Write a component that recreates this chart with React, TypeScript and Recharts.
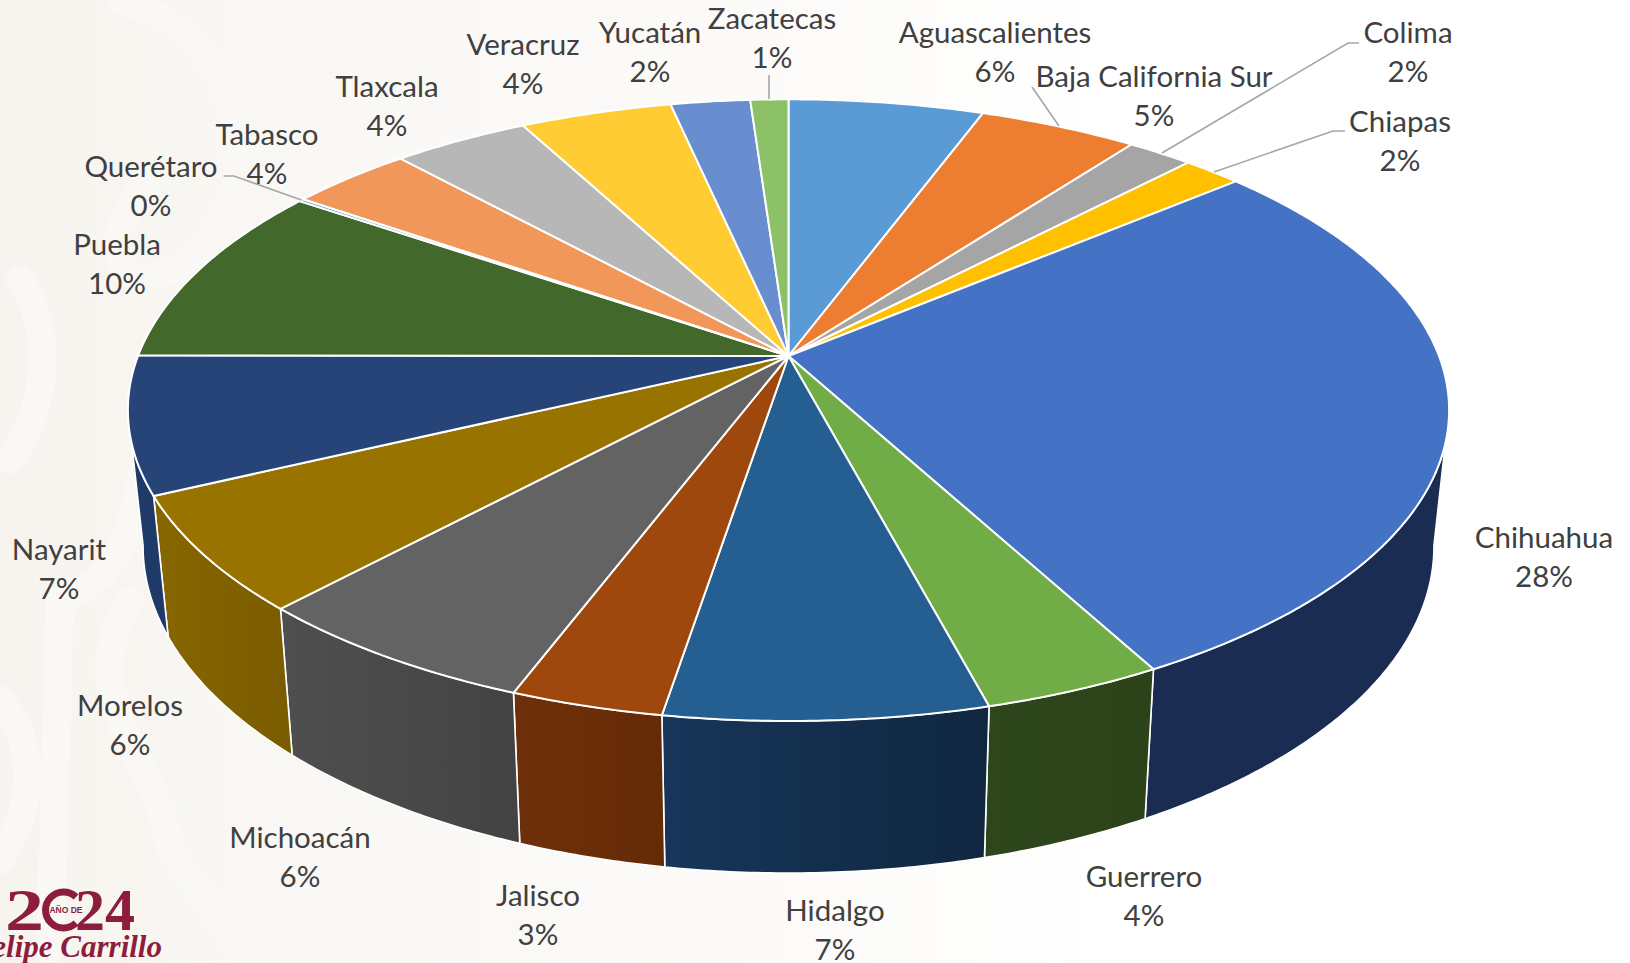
import { PieChart, Pie } from "recharts";

// states, clockwise from 12 o'clock
const states = [
  "Aguascalientes", "Baja California Sur", "Colima", "Chiapas", "Chihuahua", "Guerrero",
  "Hidalgo", "Jalisco", "Michoacán", "Morelos", "Nayarit", "Puebla",
  "Querétaro", "Tabasco", "Tlaxcala", "Veracruz", "Yucatán", "Zacatecas",
];
const shares = [5.65, 4.6, 1.9, 1.7, 28.25, 3.75, 6.7, 3.18, 6.17, 6.0, 7.1, 9.5, 0.15, 3.55, 3.95, 4.4, 2.3, 1.1];
const topColors = [
  "#5B9BD5", "#ED7D31", "#A5A5A5", "#FFC000", "#4472C4", "#70AD47",
  "#255E91", "#9E480E", "#636363", "#997300", "#264478", "#43682B",
  "#5B9BD5", "#F1975A", "#B7B7B7", "#FFCD33", "#698ED0", "#8CC168",
];
const wallFrom = [
  "#2F5F8A", "#8F4B1D", "#646464", "#9A7400", "#1A2C51", "#2E461B",
  "#17365A", "#6E300A", "#4F4F4F", "#876700", "#1F3A68", "#283F1A",
  "#2F5F8A", "#915B36", "#6E6E6E", "#9A7C1F", "#3F567E", "#55753F",
];
const wallTo = [
  "#2F5F8A", "#8F4B1D", "#646464", "#9A7400", "#1A2C51", "#2C4319",
  "#0F2740", "#652B06", "#434343", "#7A5C00", "#1F3A68", "#283F1A",
  "#2F5F8A", "#915B36", "#6E6E6E", "#9A7C1F", "#3F567E", "#55753F",
];

const tableData = states.map((name, i) => ({
  name,
  value: shares[i],
  fill: topColors[i],
  wallFrom: wallFrom[i],
  wallTo: wallTo[i],
}));

// perspective of the tilted disc
const TILT_K = 0.1742;
const Y_RATIO = 301.4 / 649.4;
const WALL_DEPTH = 152;
const WALL_SHRINK = 0.977;
const WALL_FROM_DEG = 99.9;
const WALL_TO_DEG = 260.1;

function project(cx: number, cy: number, r: number, t: number) {
  const rad = (t * Math.PI) / 180;
  const u = Math.sin(rad);
  const v = Math.cos(rad);
  const w = 1 + TILT_K * v;
  return { x: cx + (r * u) / w, y: cy - (Y_RATIO * 649.4 * v) / w };
}

function projectBottom(cx: number, cy: number, r: number, t: number) {
  const p = project(cx, cy, r, t);
  return {
    x: cx + (p.x - cx) * WALL_SHRINK,
    y: p.y + WALL_DEPTH + (p.y - 720) * 0.05,
  };
}

function arcPoints(fn: any, cx: number, cy: number, r: number, a: number, b: number) {
  const pts = [];
  const n = Math.max(2, Math.ceil(Math.abs(b - a) * 2));
  for (let i = 0; i <= n; i++) pts.push(fn(cx, cy, r, a + ((b - a) * i) / n));
  return pts;
}

const toPath = (pts: any[]) =>
  pts.map((p, i) => `${i === 0 ? "M" : "L"}${p.x.toFixed(2)},${p.y.toFixed(2)}`).join(" ") + " Z";

function TopSlice(props: any) {
  const { cx, cy, outerRadius, startAngle, endAngle, fill } = props;
  const pts = arcPoints(project, cx, cy, outerRadius, 90 - startAngle, 90 - endAngle);
  return (
    <path
      d={toPath([{ x: cx, y: cy }, ...pts])}
      fill={fill}
      stroke="#FFFFFF"
      strokeWidth={2}
      strokeLinejoin="round"
    />
  );
}

function WallSlice(props: any) {
  const { cx, cy, outerRadius, startAngle, endAngle, name } = props;
  const a = Math.max(90 - startAngle, WALL_FROM_DEG);
  const b = Math.min(90 - endAngle, WALL_TO_DEG);
  if (b <= a) return null;
  const top = arcPoints(project, cx, cy, outerRadius, a, b);
  const bottom = arcPoints(projectBottom, cx, cy, outerRadius, b, a);
  const id = `wall-${states.indexOf(name)}`;
  return (
    <g>
      <defs>
        <linearGradient id={id} x1="0" y1="0" x2="1" y2="0">
          <stop offset="0" stopColor={props.wallFrom} />
          <stop offset="1" stopColor={props.wallTo} />
        </linearGradient>
      </defs>
      <path d={toPath([...top, ...bottom])} fill={`url(#${id})`} stroke="#FFFFFF" strokeWidth={1.6} />
    </g>
  );
}

// label centres and leader lines, by state
const labelLayout: Record<string, { x: number; y: number; leader?: string }> = {
  Aguascalientes: { x: 995, y: 33 },
  "Baja California Sur": { x: 1154, y: 77, leader: "1032,87 1059,126" },
  Colima: { x: 1408, y: 33, leader: "1359,43 1348,43 1162,153" },
  Chiapas: { x: 1400, y: 122, leader: "1345,131 1333,131 1214,172" },
  Chihuahua: { x: 1544, y: 538 },
  Guerrero: { x: 1144, y: 877 },
  Hidalgo: { x: 835, y: 911 },
  Jalisco: { x: 538, y: 896 },
  Michoacán: { x: 300, y: 838 },
  Morelos: { x: 130, y: 706 },
  Nayarit: { x: 59, y: 550 },
  Puebla: { x: 117, y: 245 },
  Querétaro: { x: 151, y: 167, leader: "223.5,176 234,176 301.5,200" },
  Tabasco: { x: 267, y: 135 },
  Tlaxcala: { x: 387, y: 87 },
  Veracruz: { x: 523, y: 45 },
  Yucatán: { x: 650, y: 33 },
  Zacatecas: { x: 772, y: 19, leader: "769,75 769,99" },
};

function StateLabel(props: any) {
  const { name, percent } = props;
  const pos = labelLayout[name];
  if (!pos) return null;
  return (
    <g>
      {pos.leader && <polyline points={pos.leader} fill="none" stroke="#A6A6A6" strokeWidth={1.6} />}
      <text x={pos.x} y={pos.y + 10} textAnchor="middle" fontSize={29.5} fill="#404040" fontFamily="Lato">
        {name}
      </text>
      <text x={pos.x} y={pos.y + 49} textAnchor="middle" fontSize={29.5} fill="#404040" fontFamily="Lato">
        {Math.round(percent * 100)}%
      </text>
    </g>
  );
}

function Backdrop() {
  const shapes = [
    "M120,0 C260,40 270,220 170,270 C110,300 100,230 150,180",
    "M20,280 C60,340 40,420 10,460",
    "M170,410 C120,470 160,560 60,600 L50,950",
    "M130,600 C70,700 160,760 170,850 L250,963",
    "M300,880 C340,920 360,940 370,963",
    "M0,700 C50,760 20,830 0,860",
  ];
  const crimson = "#8C1D3C";
  return (
    <svg width={1630} height={963} style={{ position: "absolute", left: 0, top: 0 }}>
      <defs>
        <linearGradient id="paper" x1="0" y1="0" x2="1" y2="0">
          <stop offset="0" stopColor="#F7F4EF" />
          <stop offset="0.2" stopColor="#FAF8F5" />
          <stop offset="0.5" stopColor="#FCFBF9" />
          <stop offset="0.68" stopColor="#FFFFFF" />
        </linearGradient>
      </defs>
      <rect width={1630} height={963} fill="url(#paper)" />
      {shapes.map((d) => (
        <path key={d} d={d} fill="none" stroke="#F9F8F5" strokeWidth={28} strokeLinecap="round" />
      ))}
      <text x={5} y={930} fontSize={60} fontWeight="bold" fontFamily="Liberation Serif" fill={crimson} textLength={39} lengthAdjust="spacingAndGlyphs">
        2
      </text>
      <path d="M76,897 A18,18 0 1 0 76,923" fill="none" stroke={crimson} strokeWidth={7} />
      <text x={66} y={913} fontSize={8.5} fontWeight="bold" textAnchor="middle" fontFamily="Liberation Sans" fill={crimson}>
        AÑO DE
      </text>
      <text x={75} y={930} fontSize={60} fontWeight="bold" fontFamily="Liberation Serif" fill={crimson} textLength={60} lengthAdjust="spacingAndGlyphs">
        24
      </text>
      <text x={162} y={957} fontSize={31} fontWeight="bold" fontStyle="italic" textAnchor="end" fontFamily="Liberation Serif" fill={crimson}>
        Felipe Carrillo
      </text>
    </svg>
  );
}

export default function App() {
  return (
    <div style={{ position: "absolute", left: 0, top: 0, width: 1630, height: 963, overflow: "hidden" }}>
      <Backdrop />
      <div style={{ position: "absolute", left: 0, top: 0 }}>
        <PieChart width={1630} height={963} margin={{ top: 0, right: 0, bottom: 0, left: 0 }}>
          <Pie
            data={tableData}
            dataKey="value"
            nameKey="name"
            cx={788.5}
            cy={356}
            outerRadius={650.5}
            startAngle={90}
            endAngle={-270}
            shape={WallSlice}
            isAnimationActive={false}
          />
          <Pie
            data={tableData}
            dataKey="value"
            nameKey="name"
            cx={788.5}
            cy={356}
            outerRadius={650.5}
            startAngle={90}
            endAngle={-270}
            shape={TopSlice}
            label={StateLabel}
            labelLine={false}
            isAnimationActive={false}
          />
        </PieChart>
      </div>
    </div>
  );
}
